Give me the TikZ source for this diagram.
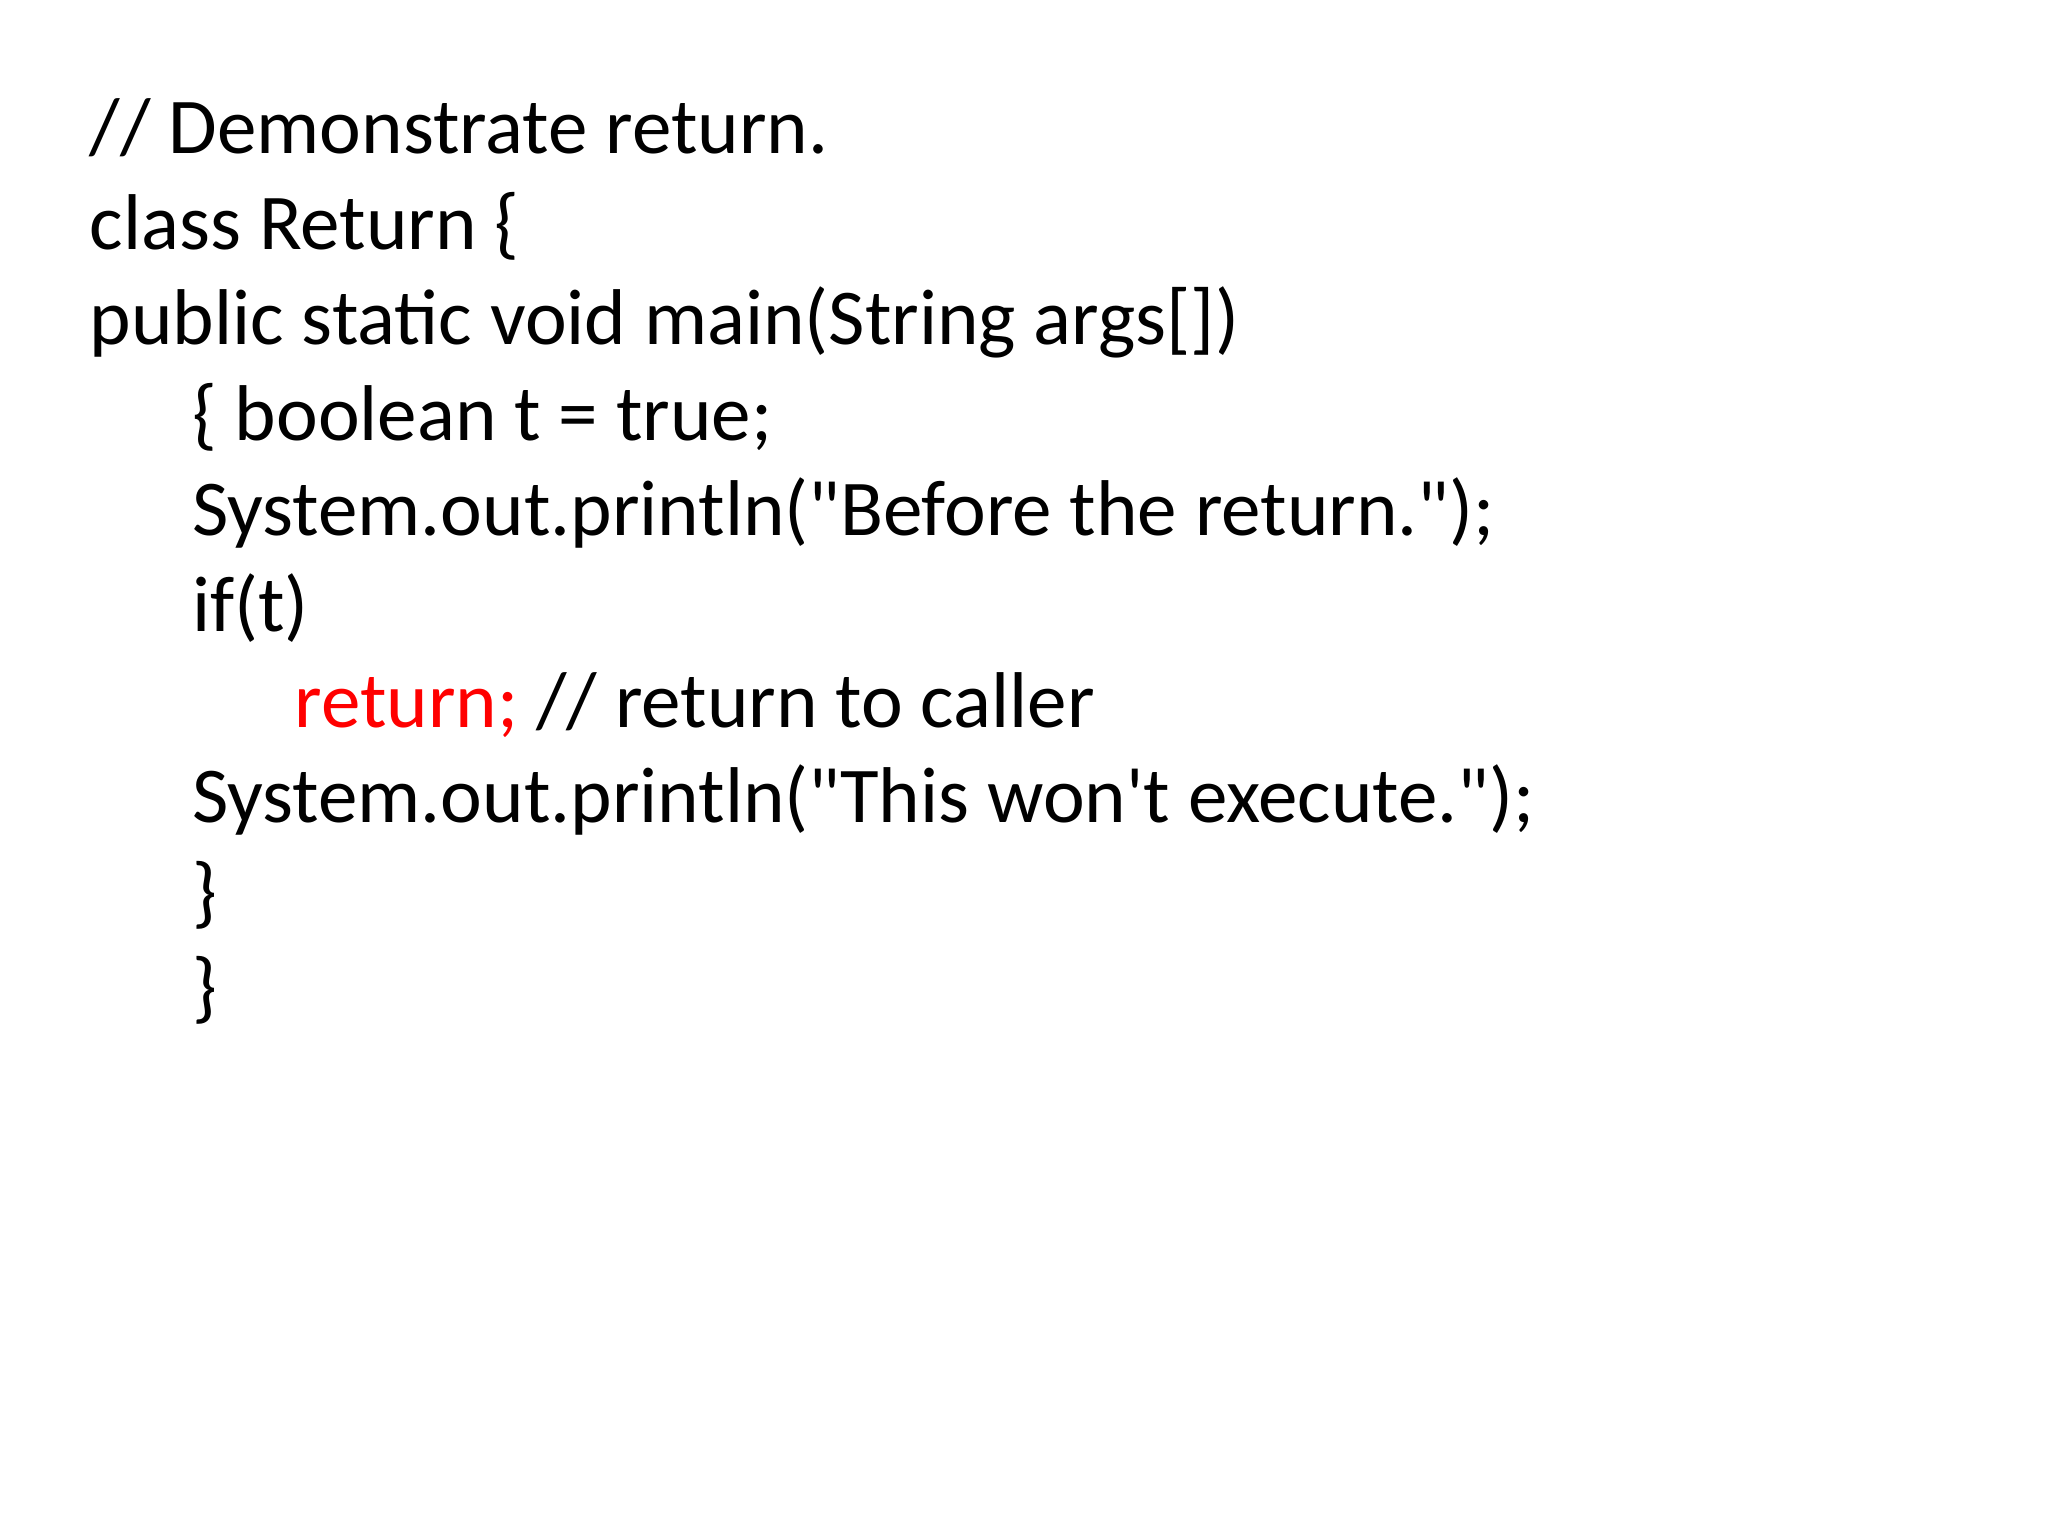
\documentclass[tikz,border=0pt]{standalone}
\usepackage{fontspec}
\setmainfont{Carlito}[Ligatures=TeXOff]
\usetikzlibrary{positioning}
\definecolor{keyred}{RGB}{255,0,0}

\tikzstyle{codeline} = [anchor=base west, inner sep=0pt,
    font=\fontsize{27.8}{33.6}\selectfont, text=black]

\begin{document}
\begin{tikzpicture}[x=1pt,y=1pt]
\useasboundingbox (0,0) rectangle (720,-540);
\node [codeline] (cmt) at (31.4,-54) {// Demonstrate return.};
\node [codeline] (cls) at (31.4,-87.6) {class Return \{};
\node [codeline] (mainsig) at (31.4,-121.2) {public static void main(String args[])};
\node [codeline] (decl) at (67.4,-154.8) {\{ boolean t = true;};
\node [codeline] (before) at (67.4,-188.4) {System.out.println("Before the return.");};
\node [codeline] (iftest) at (67.4,-222) {if(t)};
\node [codeline] (ret) at (103.4,-255.6) {\textcolor{keyred}{return;} // return to caller};
\node [codeline] (after) at (67.4,-289.2) {System.out.println("This won't execute.");};
\node [codeline] (endmain) at (67.4,-322.8) {\}};
\node [codeline] (endcls) at (67.4,-356.4) {\}};
\end{tikzpicture}
\end{document}
